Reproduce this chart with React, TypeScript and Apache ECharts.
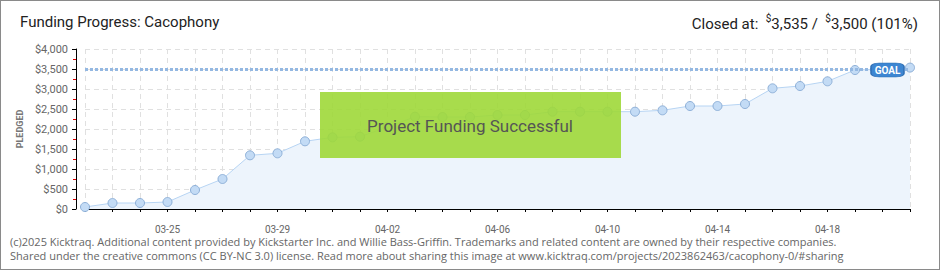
import React, { useEffect, useRef } from "react";
import * as echarts from "echarts";

const dates = [
  "03-22", "03-23", "03-24", "03-25", "03-26", "03-27", "03-28", "03-29", "03-30", "03-31",
  "04-01", "04-02", "04-03", "04-04", "04-05", "04-06", "04-07", "04-08", "04-09", "04-10",
  "04-11", "04-12", "04-13", "04-14", "04-15", "04-16", "04-17", "04-18", "04-19", "04-20", "04-21",
];
const pledged = [
  50, 150, 150, 175, 475, 750, 1342, 1392, 1692, 1792,
  1808, 2050, 2308, 2300, 2300, 2350, 2350, 2433, 2433, 2433,
  2433, 2467, 2575, 2575, 2625, 3017, 3075, 3192, 3475, 3492, 3535,
];
const goal = 3500;
const goalLabelDate = "04-20";
const yTicks = [0, 500, 1000, 1500, 2000, 2500, 3000, 3500, 4000];

const titleText = "Funding Progress: Cacophony";
const footerLines = [
  "(c)2025 Kicktraq. Additional content provided by Kickstarter Inc. and Willie Bass-Griffin. Trademarks and related content are owned by their respective companies.",
  "Shared under the creative commons (CC BY-NC 3.0) license. Read more about sharing this image at www.kicktraq.com/projects/2023862463/cacophony-0/#sharing",
];

const FONT = "Roboto, 'DejaVu Sans', sans-serif";

export default function App() {
  const ref = useRef<HTMLDivElement>(null);
  useEffect(() => {
    if (!ref.current) return;
    const chart = echarts.init(ref.current, undefined, { renderer: "svg" });
    const fmt = (v: number) => "$" + v.toLocaleString("en-US");
    chart.setOption({
      animation: false,
      grid: { left: 85, right: 30, top: 49, bottom: 61, containLabel: false },
      xAxis: {
        type: "category",
        data: dates,
        boundaryGap: false,
        offset: 11,
        axisLine: { lineStyle: { color: "#000", width: 1 } },
        axisTick: { show: true, interval: 0, length: 3, lineStyle: { color: "#000" } },
        axisLabel: {
          interval: (i: number) => (i - 3) % 4 === 0,
          color: "#666",
          fontSize: 10,
          fontFamily: FONT,
          margin: 4,
        },
        splitLine: {
          show: true,
          interval: 0,
          lineStyle: { color: "#e0e0e0", type: [5, 4], width: 1 },
        },
      },
      yAxis: {
        type: "value",
        min: 0,
        max: 4000,
        interval: 500,
        offset: 9,
        name: "PLEDGED",
        nameLocation: "middle",
        nameGap: 51,
        nameTextStyle: { color: "#777", fontSize: 9, fontFamily: FONT, fontWeight: "bold" },
        axisLine: { show: true, lineStyle: { color: "#000", width: 1 } },
        axisTick: { show: true, length: 4, lineStyle: { color: "#000" } },
        minorTick: { show: true, splitNumber: 2, length: 3, lineStyle: { color: "#e00000" } },
        axisLabel: {
          color: "#666",
          fontSize: 11,
          fontFamily: FONT,
          margin: 8,
          formatter: (v: number) => (yTicks.includes(v) ? fmt(v) : ""),
        },
        splitLine: { show: true, lineStyle: { color: "#e0e0e0", type: [5, 4], width: 1 } },
      },
      series: [
        {
          type: "line",
          data: pledged,
          symbol: "circle",
          symbolSize: 9,
          lineStyle: { color: "#b7d4f3", width: 1 },
          itemStyle: { color: "#c3dbf5", borderColor: "#8eb0d8", borderWidth: 1 },
          areaStyle: { color: "#edf4fc", opacity: 1 },
          z: 3,
          markLine: {
            silent: true,
            symbol: "none",
            z: 4,
            lineStyle: { color: "#94b8e2", type: [3, 2], width: 3, opacity: 1 },
            label: { show: false },
            data: [{ yAxis: goal }],
          },
          markPoint: {
            silent: true,
            z: 10,
            data: [
              {
                coord: [goalLabelDate, goal],
                symbol: "roundRect",
                symbolSize: [33, 14],
                symbolOffset: [5, 1],
                itemStyle: { color: "#3d86d2", borderColor: "#2f6fb5", borderWidth: 1 },
                label: {
                  show: true,
                  position: "inside",
                  formatter: "GOAL",
                  color: "#fff",
                  fontSize: 10,
                  fontWeight: "bold",
                  fontFamily: FONT,
                },
              },
            ],
          },
        },
      ],
      graphic: [
        {
          type: "text",
          left: 20,
          top: 14,
          style: { text: titleText, fill: "#222", font: `15px ${FONT}` },
        },
        {
          type: "text",
          right: 22,
          top: 13,
          style: {
            text: "{a|Closed at:  }{s|$}{a|3,535 /  }{s|$}{a|3,500 (101%)}",
            fill: "#222",
            rich: {
              a: { fontSize: 15, fontFamily: FONT, color: "#222", verticalAlign: "bottom", lineHeight: 18 },
              s: { fontSize: 10, fontFamily: FONT, color: "#222", verticalAlign: "top", lineHeight: 18 },
            },
          },
        },
        {
          type: "rect",
          z: 100,
          shape: { x: 320, y: 92, width: 301, height: 66 },
          style: { fill: "rgba(158,216,56,0.9)" },
        },
        {
          type: "text",
          z: 101,
          x: 470,
          y: 126,
          style: {
            text: "Project Funding Successful",
            fill: "#555",
            font: `17px ${FONT}`,
            align: "center",
            verticalAlign: "middle",
            textShadowColor: "#fff",
            textShadowOffsetX: 1,
            textShadowOffsetY: 1,
            textShadowBlur: 0,
          },
        },
        {
          type: "text",
          left: 10,
          top: 236,
          style: { text: footerLines[0], fill: "#666", font: `11px 'Open Sans', ${FONT}` },
        },
        {
          type: "text",
          left: 10,
          top: 250,
          style: { text: footerLines[1], fill: "#666", font: `11px 'Open Sans', ${FONT}` },
        },
      ],
    });
    return () => chart.dispose();
  }, []);
  return (
    <div
      style={{
        position: "absolute",
        left: 0,
        top: 0,
        width: 940,
        height: 270,
        boxSizing: "border-box",
        border: "1px solid #8a8a8a",
        background: "#fff",
      }}
    >
      <div ref={ref} style={{ position: "absolute", left: -1, top: -1, width: 940, height: 270 }} />
    </div>
  );
}
